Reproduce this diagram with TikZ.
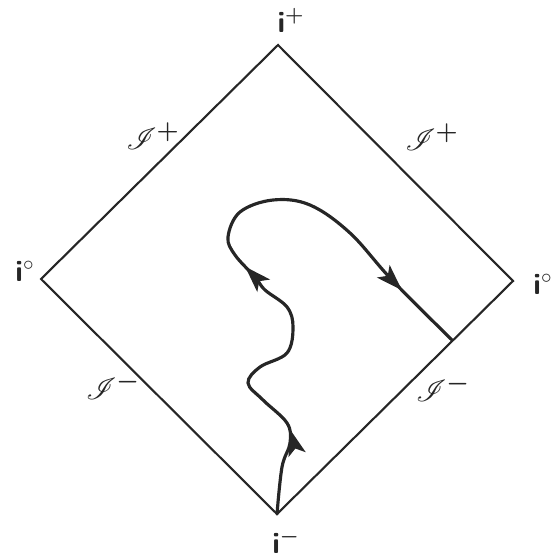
\documentclass[tikz,border=0pt]{standalone}
\usepackage{amsmath,mathrsfs}
\usetikzlibrary{arrows.meta,decorations.markings}
\tikzset{flowtip/.tip={Stealth[length=15pt,width=10pt,inset=3.5pt]}}
\begin{document}
\begin{tikzpicture}[x=0.02cm,y=-0.02cm,
  edgeline/.style={line width=1.2pt,black!85,line join=miter},
  worldline/.style={line width=1.8pt,black!85,line cap=round,
    decoration={markings,
      mark=at position 0.135 with {\arrow{flowtip}},
      mark=at position 0.48 with {\arrow{flowtip}},
      mark=at position 0.89 with {\arrow{flowtip}}},
    postaction={decorate}},
  ptlabel/.style={font=\sffamily\bfseries\fontsize{17}{20}\selectfont,inner sep=0pt,text=black!85},
  scrilabel/.style={font=\fontsize{19}{21}\selectfont,inner sep=0pt,text=black!85}
]
  \useasboundingbox (0,0) rectangle (553,560);
  % Corners of the diagram
  \coordinate (top) at (278,45);
  \coordinate (left) at (41,279);
  \coordinate (right) at (513,281);
  \coordinate (bot) at (277,514);
  \coordinate (hit) at (452,340);
  % Boundary
  \draw[edgeline] (top) -- (right) -- (bot) -- (left) -- cycle;
  % Points at infinity
  \node[ptlabel] (iplus) at (291,20) {i$^{\boldsymbol{+}}$};
  \node[ptlabel] (izeroL) at (25,271) {i$^{\circ}$};
  \node[ptlabel] (izeroR) at (543,284) {i$^{\circ}$};
  \node[ptlabel] (iminus) at (286,541) {i$^{\boldsymbol{-}}$};
  % Null infinities
  \node[scrilabel] (scriUL) at (153,136) {$\mathscr{I}^{\boldsymbol{+}}$};
  \node[scrilabel] (scriUR) at (432,137) {$\mathscr{I}^{\boldsymbol{+}}$};
  \node[scrilabel] (scriLL) at (113,386) {$\mathscr{I}^{\boldsymbol{-}}$};
  \node[scrilabel] (scriLR) at (443,388) {$\mathscr{I}^{\boldsymbol{-}}$};
  % World line
  \draw[worldline] plot[smooth,tension=0.6] coordinates {(bot) (282,467) (290,443)
    (287,423) (263,400) (248,383) (260,367) (287,353) (293,327) (287,307)
    (265,290) (255,277) (235,255) (228,237) (240,212) (273,200) (310,205)
    (350,233) (392,280) (hit)};
\end{tikzpicture}
\end{document}
